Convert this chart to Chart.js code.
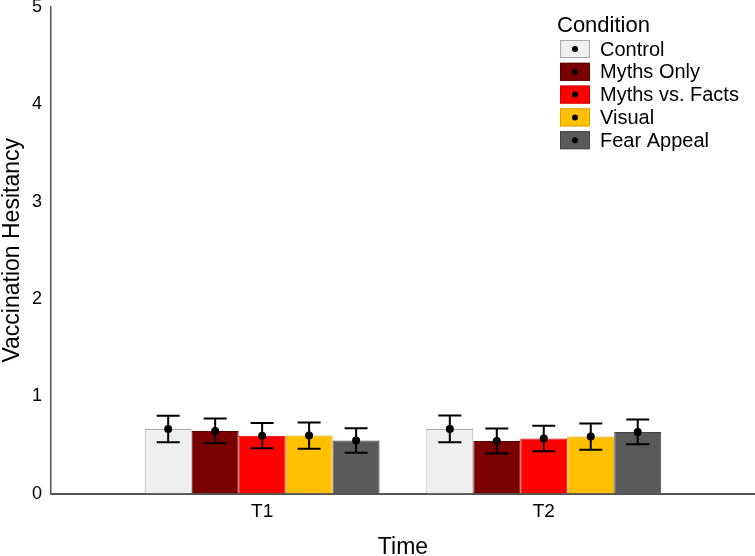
<!DOCTYPE html>
<html>
<head>
<meta charset="utf-8">
<script src="https://cdn.jsdelivr.net/npm/chart.js@4.4.1/dist/chart.umd.min.js"></script>
<style>
  html, body { margin: 0; padding: 0; background: #fff; }
  #wrap { width: 755px; height: 556px; }
</style>
</head>
<body>
<div id="wrap"><canvas id="chart"></canvas></div>
<script>
// time points on the x axis
const times = ['T1', 'T2'];
const timePos = [1, 2];
const conditions = ['Control', 'Myths Only', 'Myths vs. Facts', 'Visual', 'Fear Appeal'];

// mean hesitancy per condition (T1, T2)
const controlMeans = [0.664, 0.665];
const mythsOnlyMeans = [0.644, 0.540];
const mythsFactsMeans = [0.595, 0.566];
const visualMeans = [0.596, 0.586];
const fearMeans = [0.546, 0.634];

// error bar half widths
const controlErr = [0.137, 0.138];
const mythsOnlyErr = [0.127, 0.128];
const mythsFactsErr = [0.130, 0.130];
const visualErr = [0.135, 0.135];
const fearErr = [0.125, 0.127];

const yTicks = [0, 1, 2, 3, 4, 5];

const fills = ['#efefef', '#7a0000', '#ff0000', '#ffc000', '#5a5a5a'];
const borders = ['#a8a8a8', '#5a0000', '#d00000', '#d9a000', '#444444'];

const means = [controlMeans, mythsOnlyMeans, mythsFactsMeans, visualMeans, fearMeans];
const errs = [controlErr, mythsOnlyErr, mythsFactsErr, visualErr, fearErr];

const datasets = conditions.map((c, k) => ({
    label: c,
    data: timePos.map((x, i) => ({ x: x, y: means[k][i] })),
    err: errs[k],
    backgroundColor: fills[k],
    borderColor: borders[k],
    borderWidth: 1,
    categoryPercentage: 0.834,
    barPercentage: 1
}));

// error bars + mean dots on top of each bar
const errorBars = {
    id: 'errorBars',
    afterDatasetsDraw(chart) {
        const ctx = chart.ctx;
        const y = chart.scales.y;
        ctx.save();
        chart.data.datasets.forEach((ds, k) => {
            const meta = chart.getDatasetMeta(k);
            meta.data.forEach((bar, i) => {
                const m = ds.data[i].y;
                const e = ds.err[i];
                const top = y.getPixelForValue(m + e);
                const bot = y.getPixelForValue(m - e);
                ctx.strokeStyle = '#000';
                ctx.lineWidth = 2;
                ctx.beginPath();
                ctx.moveTo(bar.x, top); ctx.lineTo(bar.x, bot);
                ctx.moveTo(bar.x - 11.5, top); ctx.lineTo(bar.x + 11.5, top);
                ctx.moveTo(bar.x - 11.5, bot); ctx.lineTo(bar.x + 11.5, bot);
                ctx.stroke();
                ctx.fillStyle = '#000';
                ctx.beginPath();
                ctx.arc(bar.x, y.getPixelForValue(m), 4, 0, Math.PI * 2);
                ctx.fill();
            });
        });
        ctx.restore();
    }
};

// legend box with a dot, drawn inside the plot area
const dotLegend = {
    id: 'dotLegend',
    afterDraw(chart) {
        const ctx = chart.ctx;
        ctx.save();
        ctx.fillStyle = '#000';
        ctx.textBaseline = 'alphabetic';
        ctx.font = '22px "Liberation Sans", Arial, sans-serif';
        ctx.fillText('Condition', 557, 32);
        ctx.font = '20px "Liberation Sans", Arial, sans-serif';
        ctx.textBaseline = 'middle';
        chart.data.datasets.forEach((ds, k) => {
            const top = 40 + k * 22.8;
            ctx.fillStyle = ds.backgroundColor;
            ctx.fillRect(560, top, 30, 18);
            ctx.strokeStyle = ds.borderColor;
            ctx.lineWidth = 1;
            ctx.strokeRect(560.5, top + 0.5, 29, 17);
            ctx.fillStyle = '#000';
            ctx.beginPath();
            ctx.arc(575, top + 9, 3, 0, Math.PI * 2);
            ctx.fill();
            ctx.fillText(ds.label, 600, top + 10);
        });
        ctx.restore();
    }
};

new Chart(document.getElementById('chart'), {
    type: 'bar',
    data: { datasets: datasets },
    options: {
        responsive: true,
        maintainAspectRatio: false,
        animation: false,
        layout: { padding: { left: 0, right: 0, top: 0, bottom: 0 } },
        plugins: {
            legend: { display: false },
            tooltip: { enabled: false }
        },
        scales: {
            x: {
                type: 'linear',
                offset: false,
                bounds: 'data',
                min: 0.25,
                max: 2.75,
                afterBuildTicks(s) { s.ticks = timePos.map(v => ({ value: v })); },
                grid: { display: false, drawTicks: false },
                border: { display: true, color: '#555', width: 2 },
                ticks: {
                    color: '#000',
                    padding: 7,
                    font: { family: '"Liberation Sans", Arial', size: 19, lineHeight: 1.2 },
                    callback: (v) => times[timePos.indexOf(v)]
                },
                title: {
                    display: true,
                    text: 'Time',
                    color: '#000',
                    font: { family: '"Liberation Sans", Arial', size: 23, lineHeight: 1 },
                    padding: { top: 5.6, bottom: -3 }
                }
            },
            y: {
                min: 0,
                max: 5,
                afterBuildTicks(s) { s.ticks = yTicks.map(v => ({ value: v })); },
                afterFit(s) { s.paddingTop = 7; s.paddingBottom = 0; },
                grid: { display: false, drawTicks: false },
                border: { display: true, color: '#555', width: 1.5 },
                ticks: {
                    color: '#000',
                    padding: 9,
                    font: { family: '"Liberation Sans", Arial', size: 18, lineHeight: 1 }
                },
                title: {
                    display: true,
                    text: 'Vaccination Hesitancy',
                    color: '#000',
                    font: { family: '"Liberation Sans", Arial', size: 23, lineHeight: 1.1 },
                    padding: { top: 0, bottom: -2.4 }
                }
            }
        }
    },
    plugins: [errorBars, dotLegend]
});
</script>
</body>
</html>
